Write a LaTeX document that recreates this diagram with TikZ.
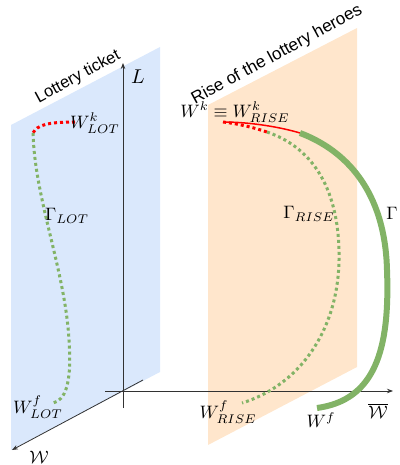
\documentclass[tikz,border=0pt]{standalone}
\usepackage{fontspec}
\setsansfont{Liberation Sans}
\usetikzlibrary{arrows.meta}
\definecolor{planeblue}{RGB}{218,232,252}
\definecolor{planeorange}{RGB}{255,230,204}
\definecolor{curvegreen}{RGB}{130,179,102}
\definecolor{axisgray}{RGB}{50,50,50}
\tikzset{
  axisline/.style={draw=axisgray, line width=0.8pt},
  axisarrow/.style={axisline, -{Stealth[length=6pt,width=4.5pt]}},
  dotgreen/.style={draw=curvegreen, line width=3pt, dash pattern=on 3pt off 3pt},
  dotred/.style={draw=red, line width=3pt, dash pattern=on 3pt off 3pt},
  solidred/.style={draw=red, line width=1.5pt},
  thickgreen/.style={draw=curvegreen, line width=6pt},
  mathlbl/.style={inner sep=0pt, scale=1.8},
  planelbl/.style={font=\sffamily\fontsize{16.5}{19}\selectfont, inner sep=0pt, rotate=28.5},
}
\begin{document}
\begin{tikzpicture}[x=1pt,y=1pt]
\useasboundingbox (0,0) rectangle (399,-465);
% planes
\fill[planeblue] (11,-125) -- (160,-47) -- (160,-372) -- (11,-450) -- cycle;
\fill[planeorange] (208,-105) -- (357,-28) -- (357,-367) -- (208,-445) -- cycle;
% axes
\coordinate (o) at (123,-391);
\coordinate (ltop) at (123,-63);
\coordinate (lbot) at (123,-408);
\coordinate (hstart) at (105,-391);
\coordinate (hend) at (393,-391);
\coordinate (dstart) at (143,-380);
\coordinate (dend) at (12,-450);
\draw[axisarrow] (lbot) -- (ltop);
\draw[axisarrow] (hstart) -- (hend);
\draw[axisarrow] (dstart) -- (dend);
% LOT curve
\coordinate (lk) at (75,-122);
\coordinate (lc) at (33,-133);
\coordinate (lm) at (69,-340);
\coordinate (lf) at (53,-403);
\draw[dotred] (lk) .. controls (48,-122) and (37,-125) .. (lc);
\draw[dotgreen] (lc) .. controls (35,-200) and (65,-270) .. (lm)
  .. controls (72,-385) and (65,-400) .. (lf);
% RISE curves
\coordinate (rk) at (223,-122);
\coordinate (rs) at (300,-133);
\coordinate (rm) at (387,-270);
\coordinate (rf) at (317,-408);
\coordinate (rd) at (267,-132);
\coordinate (rdm) at (339,-260);
\coordinate (rdf) at (242,-403);
\draw[dotgreen] (rd) .. controls (320,-150) and (340,-200) .. (rdm)
  .. controls (338,-330) and (300,-385) .. (rdf);
\draw[dotred] (rk) .. controls (240,-124) and (255,-128) .. (rd);
\draw[solidred] (rk) .. controls (250,-122) and (280,-127) .. (rs);
\draw[thickgreen] (rs) .. controls (345,-150) and (385,-190) .. (rm)
  .. controls (390,-350) and (375,-400) .. (rf);
% labels
\node[planelbl] (lotlbl) at (78,-77) {Lottery ticket};
\node[planelbl, font=\sffamily\fontsize{17.2}{20}\selectfont] (riselbl) at (277,-55) {Rise of the lottery heroes};
\node[inner sep=0pt, scale=2] (Llbl) at (138,-77) {$L$};
\node[mathlbl] (wklot) at (95,-123) {$W^k_{LOT}$};
\node[mathlbl] (glot) at (67,-216) {$\Gamma_{LOT}$};
\node[mathlbl] (wflot) at (38,-407) {$W^f_{LOT}$};
\node[mathlbl] (wkrise) at (235,-112) {$W^k\equiv W^k_{RISE}$};
\node[mathlbl] (grise) at (309,-214) {$\Gamma_{RISE}$};
\node[mathlbl] (gam) at (392,-213) {$\Gamma$};
\node[mathlbl] (wfrise) at (228,-412) {$W^f_{RISE}$};
\node[mathlbl] (wf) at (321,-420) {$W^f$};
\node[inner sep=0pt, scale=1.8] (wbar) at (378,-411) {$\overline{\mathcal{W}}$};
\node[inner sep=0pt, scale=1.8] (wcal) at (39,-457) {$\mathcal{W}$};
\end{tikzpicture}
\end{document}
